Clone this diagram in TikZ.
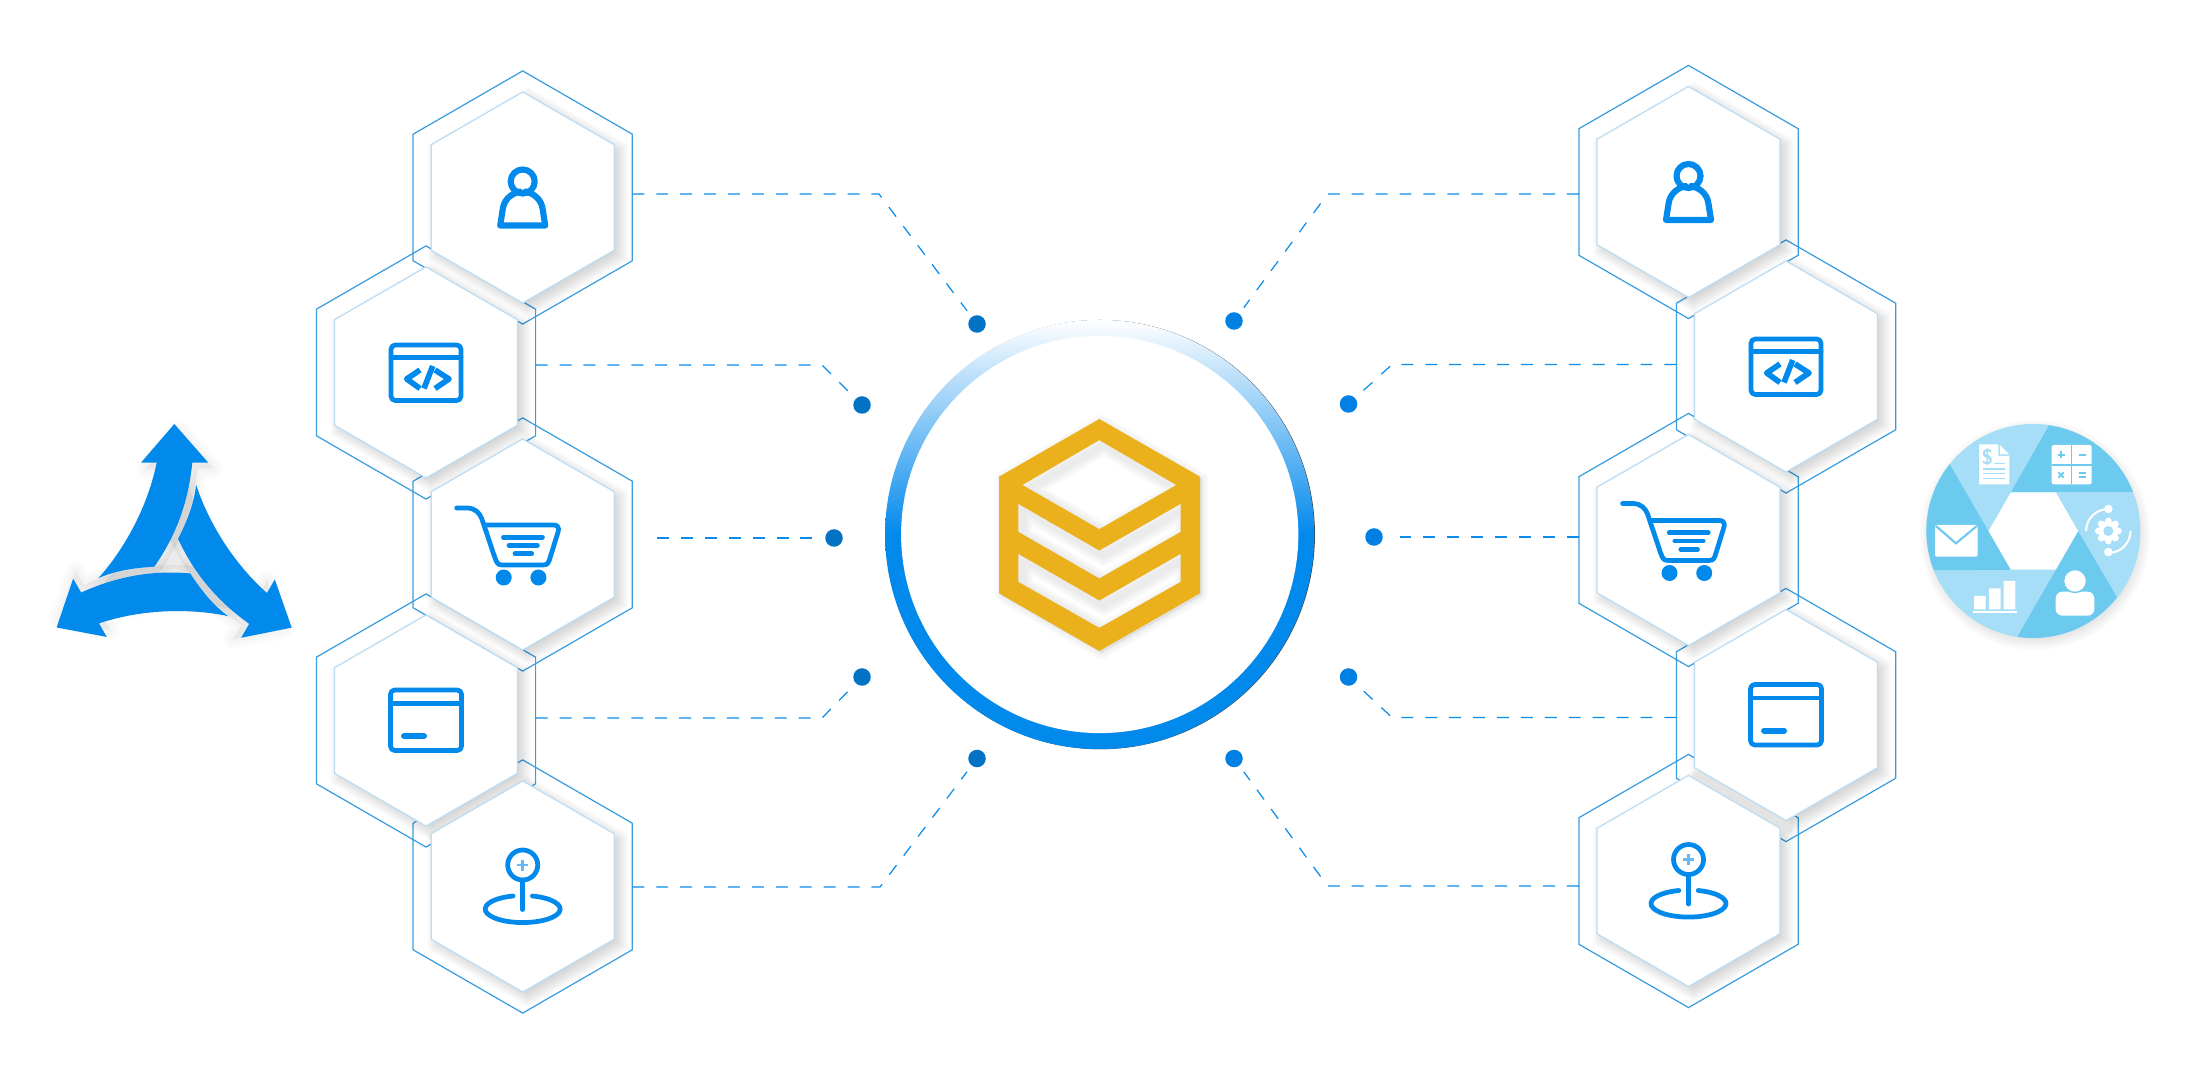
\documentclass[tikz,border=0pt]{standalone}
\usepackage{xcolor}
\usetikzlibrary{shapes.geometric, positioning, calc}
\definecolor{iconblue}{RGB}{2,137,236}
\definecolor{hexline}{RGB}{58,157,224}
\definecolor{hexpale}{RGB}{188,220,243}
\definecolor{linkblue}{RGB}{10,140,235}
\definecolor{dotdark}{RGB}{2,114,196}
\definecolor{dotlight}{RGB}{1,128,228}
\definecolor{logogold}{RGB}{235,177,29}
\definecolor{irisdark}{RGB}{108,202,239}
\definecolor{irislight}{RGB}{165,222,246}
\newcommand{\logoout}{(1099.3,419) -- (1200,476.7) -- (1200,593.3) -- (1099.3,651) -- (999,593.3) -- (999,476.7) -- cycle}
\newcommand{\holetop}{(1099.3,440.3) -- (1176,485) -- (1099.3,529) -- (1022.7,485) -- cycle}
\newcommand{\holemid}{(1018.3,504) -- (1099.3,550.7) -- (1180.7,504) -- (1180.7,531.7) -- (1099.3,578.3) -- (1018.3,531.7) -- cycle}
\newcommand{\holelow}{(1018.3,554) -- (1099.3,600.7) -- (1180.7,554) -- (1180.7,581.7) -- (1099.3,627.7) -- (1018.3,581.7) -- cycle}
\newcommand{\arrowblade}[1]{($(triad)!1!#1:(174.3,424)$) -- ($(triad)!1!#1:(208.3,462.7)$) -- ($(triad)!1!#1:(192.3,462.7)$)
    .. controls ($(triad)!1!#1:(188,505)$) and ($(triad)!1!#1:(175,537)$) .. ($(triad)!1!#1:(154.3,566.7)$)
    .. controls ($(triad)!1!#1:(130,568)$) and ($(triad)!1!#1:(112,572)$) .. ($(triad)!1!#1:(98.3,578.3)$)
    .. controls ($(triad)!1!#1:(122,552)$) and ($(triad)!1!#1:(147,510)$) .. ($(triad)!1!#1:(156.7,462.7)$)
    -- ($(triad)!1!#1:(141,462.7)$) -- cycle}
\tikzset{
  hexshape/.style={regular polygon, regular polygon sides=6, shape border rotate=30, inner sep=0pt, outer sep=0pt},
  hexouter/.style={hexshape, minimum size=2.53cm, draw=hexline, line width=0.35pt},
  hexinner/.style={hexshape, minimum size=2.11cm, draw=hexpale, line width=0.35pt, fill=white},
  hexshadow/.style={hexshape, fill=black, opacity=0.02, xshift=0.05cm, yshift=-0.05cm},
  softpath/.style={black, opacity=0.009, line join=round},
  link/.style={draw=linkblue, line width=0.35pt, dash pattern=on 3.4pt off 3.4pt, shorten >=2pt},
  dotleft/.style={circle, fill=dotdark, minimum size=0.175cm, inner sep=0pt},
  dotright/.style={circle, fill=dotlight, minimum size=0.175cm, inner sep=0pt},
  iconline/.style={draw=iconblue, line width=1.35pt, line cap=round, line join=round},
  irisline/.style={draw=irislight, line width=0.4pt},
  calcsign/.style={draw=irisdark, line width=0.45pt},
  usericon/.pic={
    \draw[iconline, line width=1.75pt] (0,-16) circle (0.12cm);
    \draw[iconline, line width=1.75pt] (-3,-6) .. controls (-14,-3) and (-19,4) .. (-20,12) -- (-22.5,28) -- (22.5,28) -- (20,12) .. controls (19,4) and (14,-3) .. (3,-6);
  },
  codeicon/.pic={
    \draw[iconline, rounded corners=1.2pt] (-35,-27.5) rectangle (35,28);
    \draw[iconline] (-35,-15) -- (35,-15);
    \draw[iconline, line width=1.6pt, line cap=butt] (-6,-2.5) -- (-19.3,6.5) -- (-6,16);
    \draw[iconline, line width=1.6pt, line cap=butt] (6.7,-6.5) -- (-2,16);
    \draw[iconline, line width=1.6pt, line cap=butt] (9,-2.5) -- (23,6.5) -- (9,16);
  },
  carticon/.pic={
    \draw[iconline] (-66,-36.5) -- (-56,-36.5) .. controls (-47,-36.5) and (-43,-31) .. (-41,-26) -- (-27.7,13.5) .. controls (-26,18) and (-25,20.4) .. (-21,20.4) -- (21,20.4) .. controls (25,20.4) and (26,18) .. (27.3,13.5) -- (35.5,-13) .. controls (36.5,-17) and (35,-19.5) .. (31,-19.5) -- (-37,-19.5);
    \draw[iconline] (-19.3,-7.3) -- (19.7,-7.3);
    \draw[iconline] (-13.7,1) -- (14.7,1);
    \draw[iconline] (-7.7,9.3) -- (9,9.3);
    \fill[iconblue] (-19,33) circle (0.08cm);
    \fill[iconblue] (15.7,33) circle (0.08cm);
  },
  cardicon/.pic={
    \draw[iconline, rounded corners=1.2pt] (-35.5,-30.5) rectangle (35.5,30);
    \draw[iconline] (-35.5,-17) -- (35.5,-17);
    \draw[iconline, line width=1.7pt] (-22,15.6) -- (-2,15.6);
  },
  pinicon/.pic={
    \draw[iconline] (0,-21.5) circle (0.15cm);
    \draw[iconline] (0,-6.5) -- (0,23);
    \draw[iconline] (9.7,9.5) arc[start angle=75, end angle=-255, x radius=0.375cm, y radius=0.135cm];
    \draw[iconblue!60, line width=0.7pt] (-5.5,-21.5) -- (5.5,-21.5) (0,-27) -- (0,-16);
  },
}
\begin{document}
\begin{tikzpicture}[x=0.01cm, y=-0.01cm]
    \useasboundingbox (0,0) rectangle (2198,1080);

    % Hexagon frames, then the white faces on top of them
    \foreach \n/\x/\y in {l1/522.7/197.5, l2/426/372.5, l3/522.7/544.5, l4/426/720.5, l5/522.7/886.5,
                          r1/1688.5/192, r2/1786/366.5, r3/1688.5/540, r4/1786/715, r5/1688.5/881}
        \node[hexouter] (ho\n) at (\x,\y) {};
    \foreach \n/\x/\y in {l1/522.7/197.5, l2/426/372.5, l3/522.7/544.5, l4/426/720.5, l5/522.7/886.5,
                          r1/1688.5/192, r2/1786/366.5, r3/1688.5/540, r4/1786/715, r5/1688.5/881} {
        \foreach \w in {-3,...,5}
            \node[hexshadow, minimum size=2.11cm+\w*0.04cm] (sh\n\w) at (\x,\y) {};
        \node[hexinner] (hi\n) at (\x,\y) {};
    }

    % Icons
    \pic at (hil1.center) {usericon};
    \pic at (hil2.center) {codeicon};
    \pic at (hil3.center) {carticon};
    \pic at (hil4.center) {cardicon};
    \pic at (hil5.center) {pinicon};
    \pic at (hir1.center) {usericon};
    \pic at (hir2.center) {codeicon};
    \pic at (hir3.center) {carticon};
    \pic at (hir4.center) {cardicon};
    \pic at (hir5.center) {pinicon};

    % Hub ring
    \node[circle, fill=black!75, minimum size=4.29cm, inner sep=0pt] (ringedge) at (1100.3,534.6) {};
    \node[circle, minimum size=4.29cm, inner sep=0pt, top color=white, bottom color=iconblue, middle color=iconblue] (ring) at (1099.7,534.5) {};
    \node[circle, fill=white, minimum size=3.97cm, inner sep=0pt] (hub) at (1099.7,534.5) {};

    % Logo
    \foreach \w in {0.5,1,...,4}
        \filldraw[softpath, line width=\w pt, xshift=0.02cm, yshift=-0.02cm] \logoout;
    \fill[logogold] \logoout;
    \foreach \hole in {\holetop,\holemid,\holelow} {
        \fill[white] \hole;
        \begin{scope}
            \clip \hole;
            \foreach \w in {2,3,4,5,6}
                \draw[black, opacity=0.015, line width=\w pt, xshift=0.045cm, yshift=-0.045cm] \hole;
        \end{scope}
    }

    % Dots
    \node[dotleft] (dl1) at (977,324) {};
    \node[dotleft] (dl2) at (862,405) {};
    \node[dotleft] (dl3) at (834,538) {};
    \node[dotleft] (dl4) at (862,677) {};
    \node[dotleft] (dl5) at (977,758.5) {};
    \node[dotright] (dr1) at (1234,321) {};
    \node[dotright] (dr2) at (1348.5,404) {};
    \node[dotright] (dr3) at (1374,537) {};
    \node[dotright] (dr4) at (1348.5,677) {};
    \node[dotright] (dr5) at (1234,758.5) {};

    % Connectors
    \coordinate (bl1) at (879,194);
    \coordinate (bl2) at (822,365);
    \coordinate (sl3) at (657,538);
    \coordinate (bl4) at (822,718);
    \coordinate (bl5) at (880,887);
    \coordinate (br1) at (1327.5,194);
    \coordinate (br2) at (1392,364.5);
    \coordinate (br4) at (1392,717.5);
    \coordinate (br5) at (1327.5,886);
    \draw[link] (bl1 -| hol1.east) -- (bl1) -- (dl1);
    \draw[link] (bl2 -| hol2.east) -- (bl2) -- (dl2);
    \draw[link] (sl3) -- (dl3);
    \draw[link] (bl4 -| hol4.east) -- (bl4) -- (dl4);
    \draw[link] (bl5 -| hol5.east) -- (bl5) -- (dl5);
    \draw[link] (br1 -| hor1.west) -- (br1) -- (dr1);
    \draw[link] (br2 -| hor2.west) -- (br2) -- (dr2);
    \draw[link] (dr3 -| hor3.west) -- (dr3);
    \draw[link] (br4 -| hor4.west) -- (br4) -- (dr4);
    \draw[link] (br5 -| hor5.west) -- (br5) -- (dr5);

    % Three arrows
    \coordinate (triad) at (174.2,559.7);
    \foreach \a in {0,-120,-240}
        \foreach \w in {1,2,...,6}
            \filldraw[softpath, line width=\w pt, xshift=0.05cm, yshift=-0.06cm] \arrowblade{\a};
    \foreach \a in {0,-120,-240}
        \fill[iconblue] \arrowblade{\a};

    % Iris
    \foreach \w in {-2,...,4}
        \fill[black, opacity=0.016] (2035,535) circle ({1.07cm+\w*0.02cm});
    \node[circle, fill=irislight, minimum size=2.14cm, inner sep=0pt] (iris) at (2033.3,531) {};
    \begin{scope}[shift={(iris.center)}]
        \foreach \a in {0,120,240}
            \fill[irisdark, rotate=\a] (-22.3,-39) -- (15.7,-105.7) arc[start angle=81.6, end angle=21.5, radius=1.07cm] -- cycle;
        \node[regular polygon, regular polygon sides=6, fill=white, minimum size=0.894cm, inner sep=0pt] (hole) at (0,0) {};
        % document
        \fill[white] (-54.3,-86.7) -- (-35,-86.7) -- (-35,-75) -- (-24,-75) -- (-24,-46.7) -- (-54.3,-46.7) -- cycle;
        \fill[white] (-33.5,-86) -- (-24,-76.5) -- (-33.5,-76.5) -- cycle;
        \node[text=irislight, font=\fontsize{6}{6}\selectfont\sffamily\bfseries, inner sep=0pt] (dollar) at (-46,-73.7) {\$};
        \draw[irisline] (-39,-67.7) -- (-28,-67.7) (-50,-62) -- (-28,-62) (-50,-57.7) -- (-28,-57.7) (-50,-52.7) -- (-28,-52.7);
        % calculator
        \fill[white, rounded corners=0.6pt] (18.3,-86) rectangle (58.3,-46.7);
        \draw[calcsign] (38.3,-86) -- (38.3,-46.7) (18.3,-66) -- (58.3,-66);
        \draw[calcsign, line width=0.5pt] (24.2,-76) -- (31.2,-76) (27.7,-79.5) -- (27.7,-72.5) (45.5,-76) -- (52.5,-76);
        \draw[calcsign, line width=0.5pt] (25,-58.7) -- (30.4,-53.3) (25,-53.3) -- (30.4,-58.7) (45.5,-58) -- (52.5,-58) (45.5,-54) -- (52.5,-54);
        % gear
        \foreach \t in {0,45,...,315}
            \fill[white] (75,0) ++(\t:0.1cm) circle (0.034cm);
        \fill[white] (75,0) circle (0.1cm);
        \fill[irislight] (75,0) circle (0.05cm);
        \draw[white, line width=0.6pt, line cap=round] (75,-22) arc[start angle=90, end angle=178, radius=0.223cm];
        \draw[white, line width=0.6pt, line cap=round] (75,22) arc[start angle=270, end angle=358, radius=0.223cm];
        \fill[white] (75,-22) circle (0.043cm) (75,21) circle (0.043cm);
        % mail
        \fill[white, rounded corners=0.4pt] (-98.3,-6) rectangle (-55.7,25.7);
        \draw[irisdark, line width=0.6pt] (-97.5,-5) -- (-77.3,12.3) -- (-56.5,-5);
        % bars
        \fill[white] (-59.3,65) rectangle (-47.7,78.3) (-44.3,57.3) rectangle (-32.7,78.3) (-29.7,50) rectangle (-18,78.3);
        \draw[white, line width=0.55pt] (-60.7,81.3) -- (-16.7,81.3);
        % person
        \fill[white, rounded corners=1.9pt] (22.3,84.7) rectangle (61,60.7);
        \fill[white, draw=irisdark, line width=0.4pt] (41.7,50) circle (0.115cm);
    \end{scope}
\end{tikzpicture}
\end{document}
